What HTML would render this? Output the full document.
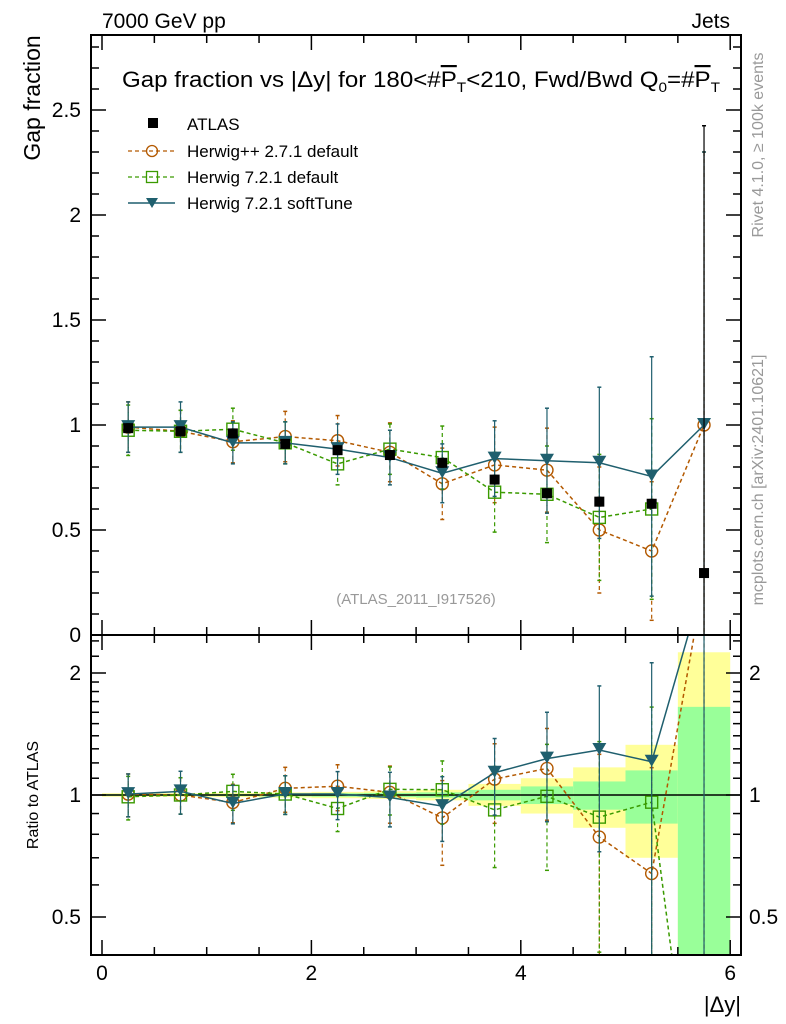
<!DOCTYPE html>
<html><head><meta charset="utf-8"><style>
html,body{margin:0;padding:0;background:#fff;overflow:hidden;width:786px;height:1024px}
svg{display:block}
svg text{font-family:"Liberation Sans",sans-serif}
</style></head><body>
<svg id="c" width="786" height="1024" xmlns="http://www.w3.org/2000/svg">
<text x="102" y="28" font-size="21">7000 GeV pp</text>
<text x="730" y="28" font-size="21" text-anchor="end">Jets</text>
<text x="122" y="87" font-size="22" textLength="598" lengthAdjust="spacingAndGlyphs">Gap fraction vs |Δy| for 180&lt;#<tspan text-decoration="overline">P</tspan><tspan font-size="14" dy="5">T</tspan><tspan dy="-5">&lt;210, Fwd/Bwd Q</tspan><tspan font-size="14" dy="5">0</tspan><tspan dy="-5">=#</tspan><tspan text-decoration="overline">P</tspan><tspan font-size="14" dy="5">T</tspan></text>
<text transform="translate(40,98) rotate(-90)" font-size="23" text-anchor="middle">Gap fraction</text>
<text transform="translate(38,795) rotate(-90)" font-size="16" text-anchor="middle">Ratio to ATLAS</text>
<text x="741" y="1012" font-size="22" text-anchor="end">|Δy|</text>
<text transform="translate(763,145) rotate(-90)" font-size="16" fill="#999" text-anchor="middle">Rivet 4.1.0, ≥ 100k events</text>
<text transform="translate(763,480) rotate(-90)" font-size="16" fill="#999" text-anchor="middle">mcplots.cern.ch [arXiv:2401.10621]</text>
<text x="416" y="604" font-size="15" fill="#999" text-anchor="middle">(ATLAS_2011_I917526)</text>
<g id="bands"></g><g id="marks"></g><g id="axes"></g>
<g>
<rect x="148" y="118" width="10" height="10" fill="#000"/>
<text x="187" y="130" font-size="17">ATLAS</text>
<line x1="128" x2="175" y1="151" y2="151" stroke="#b35900" stroke-dasharray="4,3" stroke-width="1.3"/>
<circle cx="152" cy="151" r="5.5" fill="none" stroke="#b35900" stroke-width="1.3"/>
<text x="187" y="157" font-size="17">Herwig++ 2.7.1 default</text>
<line x1="128" x2="175" y1="177" y2="177" stroke="#3a9a00" stroke-dasharray="4,3" stroke-width="1.3"/>
<rect x="146.5" y="171.5" width="11" height="11" fill="none" stroke="#3a9a00" stroke-width="1.3"/>
<text x="187" y="183" font-size="17">Herwig 7.2.1 default</text>
<line x1="128" x2="175" y1="203" y2="203" stroke="#1f5f6e" stroke-width="1.6"/>
<path d="M146,198 L158,198 L152,208 Z" fill="#1f5f6e"/>
<text x="187" y="209" font-size="17">Herwig 7.2.1 softTune</text>
</g>
</svg>
<script>
const xCenters=[0.25,0.75,1.25,1.75,2.25,2.75,3.25,3.75,4.25,4.75,5.25,5.75];
const atlasVals=[0.985,0.97,0.96,0.91,0.88,0.857,0.82,0.74,0.675,0.635,0.625,0.295];
const atlasErrUp=[0.02,0.02,0.02,0.02,0.02,0.02,0.02,0.02,0.02,0.02,0.02,2.13];
const atlasErrDn=[0.02,0.02,0.02,0.02,0.02,0.02,0.02,0.02,0.02,0.02,0.02,0.295];
const hppVals=[0.99,0.97,0.92,0.945,0.925,0.87,0.72,0.81,0.785,0.5,0.40,1.0];
const hppErr=[0.12,0.1,0.1,0.12,0.12,0.14,0.17,0.18,0.2,0.3,0.33,1.3];
const h7Vals=[0.975,0.97,0.98,0.915,0.815,0.885,0.845,0.68,0.67,0.56,0.60];
const h7Err=[0.12,0.1,0.1,0.1,0.1,0.12,0.15,0.19,0.23,0.3,0.43];
const softVals=[0.99,0.99,0.915,0.915,0.885,0.845,0.77,0.84,0.83,0.82,0.755,1.0];
const softErr=[0.12,0.12,0.1,0.1,0.12,0.13,0.14,0.18,0.25,0.36,0.57,1.3];
const binEdges=[0,0.5,1,1.5,2,2.5,3,3.5,4,4.5,5,5.5,6];
const statUp=[0.005,0.005,0.006,0.008,0.01,0.012,0.015,0.03,0.05,0.08,0.15,0.65];
const statDn=[0.005,0.005,0.006,0.008,0.01,0.012,0.015,0.03,0.05,0.08,0.15,0.9];
const totUp=[0.01,0.01,0.012,0.015,0.018,0.022,0.03,0.065,0.1,0.17,0.33,1.25];
const totDn=[0.01,0.01,0.012,0.015,0.018,0.022,0.03,0.06,0.1,0.17,0.3,0.9];
const mainTicks=[0,0.5,1,1.5,2,2.5];
const ratioTicks=[0.5,1,2];
const xTicks=[0,2,4,6];

const NS="http://www.w3.org/2000/svg";
const L=91,R=741,T=35,M=635,B=955;
const X=v=>102+104.7*v;
const Y=v=>635-210*v;
const RY=r=>795-122*Math.log2(Math.max(r,0.05));
function el(p,t,a){const e=document.createElementNS(NS,t);for(const k in a)e.setAttribute(k,a[k]);p.appendChild(e);return e;}
const bands=document.getElementById('bands'),marks=document.getElementById('marks'),axes=document.getElementById('axes');

const clipR=el(document.getElementById('c'),'clipPath',{id:'cr'});el(clipR,'rect',{x:L,y:M,width:R-L,height:B-M});
const clipM=el(document.getElementById('c'),'clipPath',{id:'cm'});el(clipM,'rect',{x:L,y:T,width:R-L,height:M-T});
bands.setAttribute('clip-path','url(#cr)');
for(let i=0;i<xCenters.length;i++){
  const x0=X(binEdges[i]),x1=X(binEdges[i+1]);
  const y=el(bands,'rect',{x:x0,y:RY(1+totUp[i]),width:x1-x0,height:RY(1-totDn[i])-RY(1+totUp[i]),fill:'#ffff99'});
  
  
  const g=el(bands,'rect',{x:x0,y:RY(1+statUp[i]),width:x1-x0,height:RY(1-statDn[i])-RY(1+statUp[i]),fill:'#99ff99'});
  
  
}
el(bands,'line',{x1:L,x2:R,y1:795,y2:795,stroke:'#000','stroke-width':1.5});

const gm=el(marks,'g',{'clip-path':'url(#cm)'});
const gr=el(marks,'g',{'clip-path':'url(#cr)'});

function series(g,vals,errUp,errDn,yf,color,dash,marker,name){
  let d='';vals.forEach((v,i)=>{d+=(i?'L':'M')+X(xCenters[i])+','+yf(v);});
  if(color!=='#000'){const p=el(g,'path',{d:d,fill:'none',stroke:color,'stroke-width':1.5});if(dash)p.setAttribute('stroke-dasharray',dash);
    
    }
  vals.forEach((v,i)=>{
    const x=X(xCenters[i]);
    const e=el(g,'line',{x1:x,x2:x,y1:yf(v+errUp[i]),y2:yf(Math.max(v-errDn[i],0.001)),stroke:color,'stroke-width':1.2});
    if(dash)e.setAttribute('stroke-dasharray',dash);
    
    
    el(g,'line',{x1:x-2,x2:x+2,y1:yf(v+errUp[i]),y2:yf(v+errUp[i]),stroke:color,'stroke-width':1.5});
    el(g,'line',{x1:x-2,x2:x+2,y1:yf(Math.max(v-errDn[i],0.001)),y2:yf(Math.max(v-errDn[i],0.001)),stroke:color,'stroke-width':1.5});
    const y=yf(v);let m;
    if(marker==='sq')m=el(g,'rect',{x:x-5,y:y-5,width:10,height:10,fill:'#000'});
    else if(marker==='circ')m=el(g,'circle',{cx:x,cy:y,r:6,fill:'none',stroke:color,'stroke-width':1.4});
    else if(marker==='osq')m=el(g,'rect',{x:x-6,y:y-6,width:12,height:12,fill:'none',stroke:color,'stroke-width':1.4});
    else m=el(g,'path',{d:`M${x-7},${y-7}L${x+7},${y-7}L${x},${y+5}Z`,fill:color});
    
    
  });
}
series(gm,hppVals,hppErr,hppErr,Y,'#b35900','4,3','circ','herwigpp');
series(gm,h7Vals,h7Err,h7Err,Y,'#3a9a00','4,3','osq','herwig721-default');
series(gm,softVals,softErr,softErr,Y,'#1f5f6e',null,'tri','softtune');
series(gm,atlasVals,atlasErrUp,atlasErrDn,Y,'#000',null,'sq','atlas');

const rat=(a,e)=>a.map((v,i)=>(e?e[i]:v)/atlasVals[i]);
series(gr,rat(hppVals),rat(hppVals,hppErr),rat(hppVals,hppErr),RY,'#b35900','4,3','circ','herwigpp-ratio');
series(gr,rat(h7Vals).concat([0.1]),rat(h7Vals,h7Err).concat([0]),rat(h7Vals,h7Err).concat([0]),RY,'#3a9a00','4,3','osq','herwig721-default-ratio');
series(gr,rat(softVals),rat(softVals,softErr),rat(softVals,softErr),RY,'#1f5f6e',null,'tri','softtune-ratio');

el(axes,'rect',{x:L,y:T,width:R-L,height:M-T,fill:'none',stroke:'#000','stroke-width':2});
el(axes,'rect',{x:L,y:M,width:R-L,height:B-M,fill:'none',stroke:'#000','stroke-width':2});
function tick(x1,y1,x2,y2){el(axes,'line',{x1,y1,x2,y2,stroke:'#000','stroke-width':1.5});}
for(let v=0;v<=2.85;v+=0.1){const y=Y(v);const maj=Math.abs(v*2-Math.round(v*2))<1e-6;const l=maj?15:8;tick(L,y,L+l,y);tick(R,y,R-l,y);}
mainTicks.forEach(v=>{const t=el(axes,'text',{x:L-10,y:Y(v)+7,'font-size':21,'text-anchor':'end'});t.textContent=v;
  
  });
[0.4,0.5,0.6,0.7,0.8,0.9,1,1.1,1.2,1.3,1.4,1.5,1.6,1.7,1.8,1.9,2,2.2,2.4].forEach(r=>{const y=RY(r);if(y<M||y>B)return;const maj=[0.5,1,2].includes(r);const l=maj?15:8;tick(L,y,L+l,y);tick(R,y,R-l,y);});
ratioTicks.forEach(v=>{[[L-10,'end'],[R+8,'start']].forEach(([x,a])=>{const t=el(axes,'text',{x:x,y:RY(v)+7,'font-size':21,'text-anchor':a});t.textContent=v;
  
  });});
for(let v=0;v<=6.001;v+=0.5){const x=X(v);const maj=Math.abs(v/2-Math.round(v/2))<1e-6;const l=maj?15:8;
  tick(x,T,x,T+l);tick(x,M,x,M-l);tick(x,M,x,M+l);tick(x,B,x,B-l);}
xTicks.forEach(v=>{const t=el(axes,'text',{x:X(v),y:980,'font-size':21,'text-anchor':'middle'});t.textContent=v;
  
  });
</script>
</body></html>
